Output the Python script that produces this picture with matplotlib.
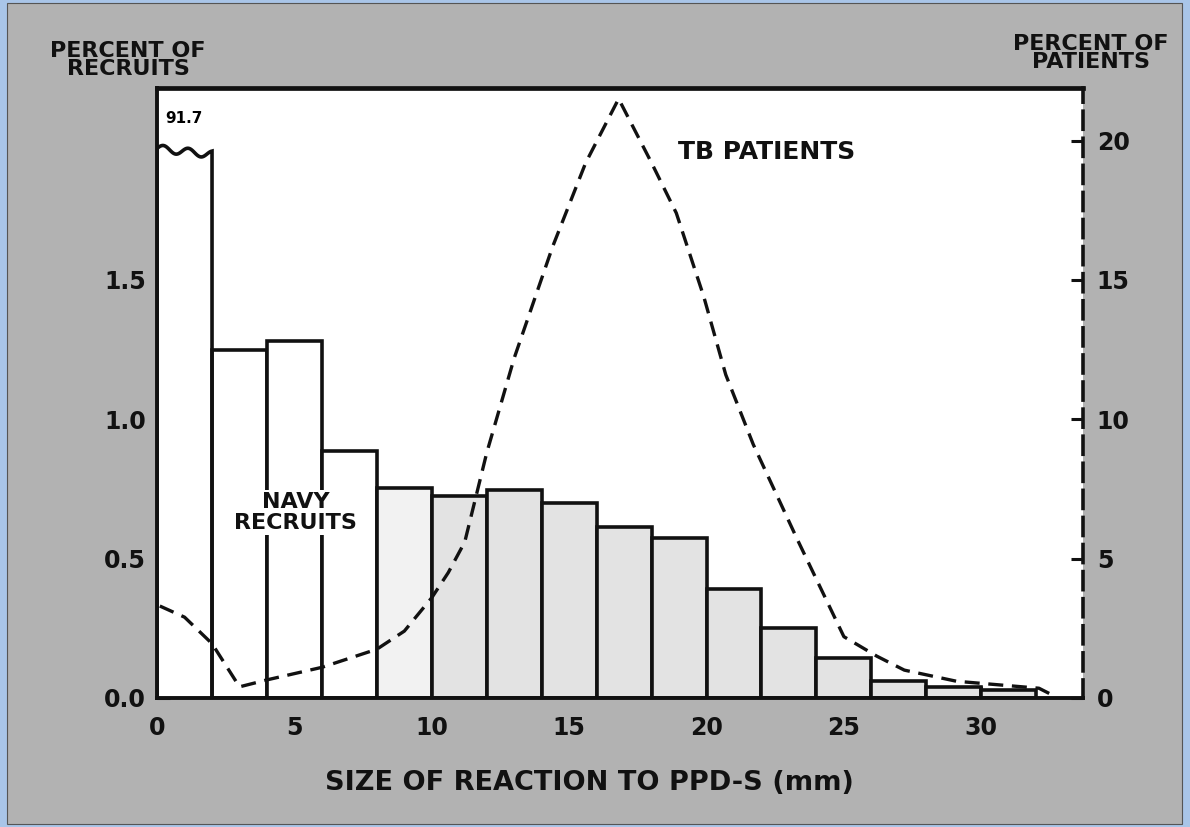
import numpy as np
import matplotlib
matplotlib.use("Agg")
import matplotlib.pyplot as plt
from matplotlib.patches import Rectangle

# navy recruits, percent per 2 mm bin (first bin is off scale)
bin_left = [0, 2, 4, 6, 8, 10, 12, 14, 16, 18, 20, 22, 24, 26, 28, 30]
recruits = [91.7, 1.25, 1.28, 0.885, 0.755, 0.725, 0.745, 0.70,
            0.613, 0.573, 0.392, 0.25, 0.143, 0.06, 0.04, 0.028]

# TB patients, percent
tb_x = [0.1, 1.0, 2.0, 3.0, 4.0, 6.0, 8.0, 9.0, 10.0, 10.6, 11.2, 11.6, 12.0,
        13.0, 14.4, 15.6, 16.8, 18.0, 18.9, 19.9, 20.7, 21.7, 23.3, 25.0,
        26.2, 27.2, 29.1, 32.1, 32.7]
tb_y = [3.3, 2.9, 1.95, 0.4, 0.65, 1.1, 1.75, 2.4, 3.6, 4.5, 5.6, 7.2, 8.8,
        12.2, 16.2, 19.2, 21.5, 19.2, 17.4, 14.4, 11.6, 9.1, 5.7, 2.2,
        1.5, 1.0, 0.6, 0.35, 0.05]

left_ticks = [0.0, 0.5, 1.0, 1.5]
right_ticks = [0, 5, 10, 15, 20]
x_ticks = [0, 5, 10, 15, 20, 25, 30]

brk = 1.95  # where the off-scale bar is cut

plt.rcParams['font.family'] = ['DejaVu Sans']
plt.rcParams['font.weight'] = 'bold'

fig = plt.figure(figsize=(11.9, 8.27), dpi=100, facecolor='#a9c5e8')
paper = Rectangle((7/1190, 3/827), 1 - 15/1190, 1 - 6/827,
                  transform=fig.transFigure, facecolor='#b2b2b2',
                  edgecolor='#555555', linewidth=0.8, zorder=-10)
fig.add_artist(paper)

ax = fig.add_axes([0.132, 0.156, 0.778, 0.738])
ax.set_facecolor('white')

fills = ['white'] * 4 + ['#f2f2f2'] + ['#e3e3e3'] * (len(recruits) - 5)
heights = [min(v, brk) for v in recruits]
bars = ax.bar(bin_left, heights, width=2, align='edge', color=fills,
              edgecolor='#111111', linewidth=2.6, zorder=2)

# off-scale bar: outline drawn by hand with a wavy break on top
bars[0].set_edgecolor('none')
wx = np.linspace(0, 2, 60)
wy = brk + 0.022 * (1 - wx / 2) + 0.013 * np.sin(2.2 * np.pi * wx)
ax.plot(np.r_[0, wx, 2, 2], np.r_[0, wy, brk, 0], color='#111111', lw=2.6,
        zorder=3, solid_joinstyle='miter')
ax.text(0.3, 2.08, '91.7', fontsize=11, ha='left', va='center')

ax.set_xlim(0, 33.7)
ax.set_ylim(0, 2.19)
ax.set_xticks(x_ticks)
ax.set_yticks(left_ticks)
ax.set_yticklabels(['0.0', '0.5', '1.0', '1.5'])
ax.tick_params(axis='both', direction='in', length=9, width=2.2,
               labelsize=17, colors='#111111')
ax.tick_params(axis='x', pad=13)
ax.tick_params(axis='y', pad=8)
for s in ['left', 'bottom', 'top']:
    ax.spines[s].set_linewidth(2.8)
    ax.spines[s].set_color('#111111')
ax.spines['top'].set_linewidth(3.4)
ax.spines['right'].set_visible(False)
ax.set_xlabel('SIZE OF REACTION TO PPD-S (mm)', fontsize=19.5,
              fontweight='bold', color='#111111')
ax.xaxis.set_label_coords(0.467, -0.118)

ax2 = ax.twinx()
ax2.plot(tb_x, tb_y, color='#111111', lw=2.4, dashes=(4.5, 2.6), zorder=4)
ax2.set_ylim(0, 21.9)
ax2.set_yticks(right_ticks)
ax2.tick_params(axis='y', direction='in', length=9, width=2.2,
                labelsize=17, colors='#111111', pad=10)
for s in ['left', 'bottom', 'top']:
    ax2.spines[s].set_visible(False)
ax2.spines['right'].set_linewidth(2.6)
ax2.spines['right'].set_linestyle((0, (5, 2.5)))
ax2.spines['right'].set_color('#111111')

fig.text(128/1190, 1 - 60/827, 'PERCENT OF\nRECRUITS', fontsize=16,
         ha='center', va='center', linespacing=0.88, color='#111111')
fig.text(1091/1190, 1 - 53/827, 'PERCENT OF\nPATIENTS', fontsize=16,
         ha='center', va='center', linespacing=0.88, color='#111111')
ax.text(0.563, 0.895, 'TB PATIENTS', transform=ax.transAxes, fontsize=18,
        ha='left', va='center', color='#111111')
ax.text(5.05, 0.665, 'NAVY\nRECRUITS', fontsize=16, ha='center',
        va='center', linespacing=1.05, zorder=5, color='#111111',
        bbox=dict(facecolor='white', edgecolor='none', pad=1.5))

fig.savefig('out.png', dpi=100, facecolor=fig.get_facecolor())
